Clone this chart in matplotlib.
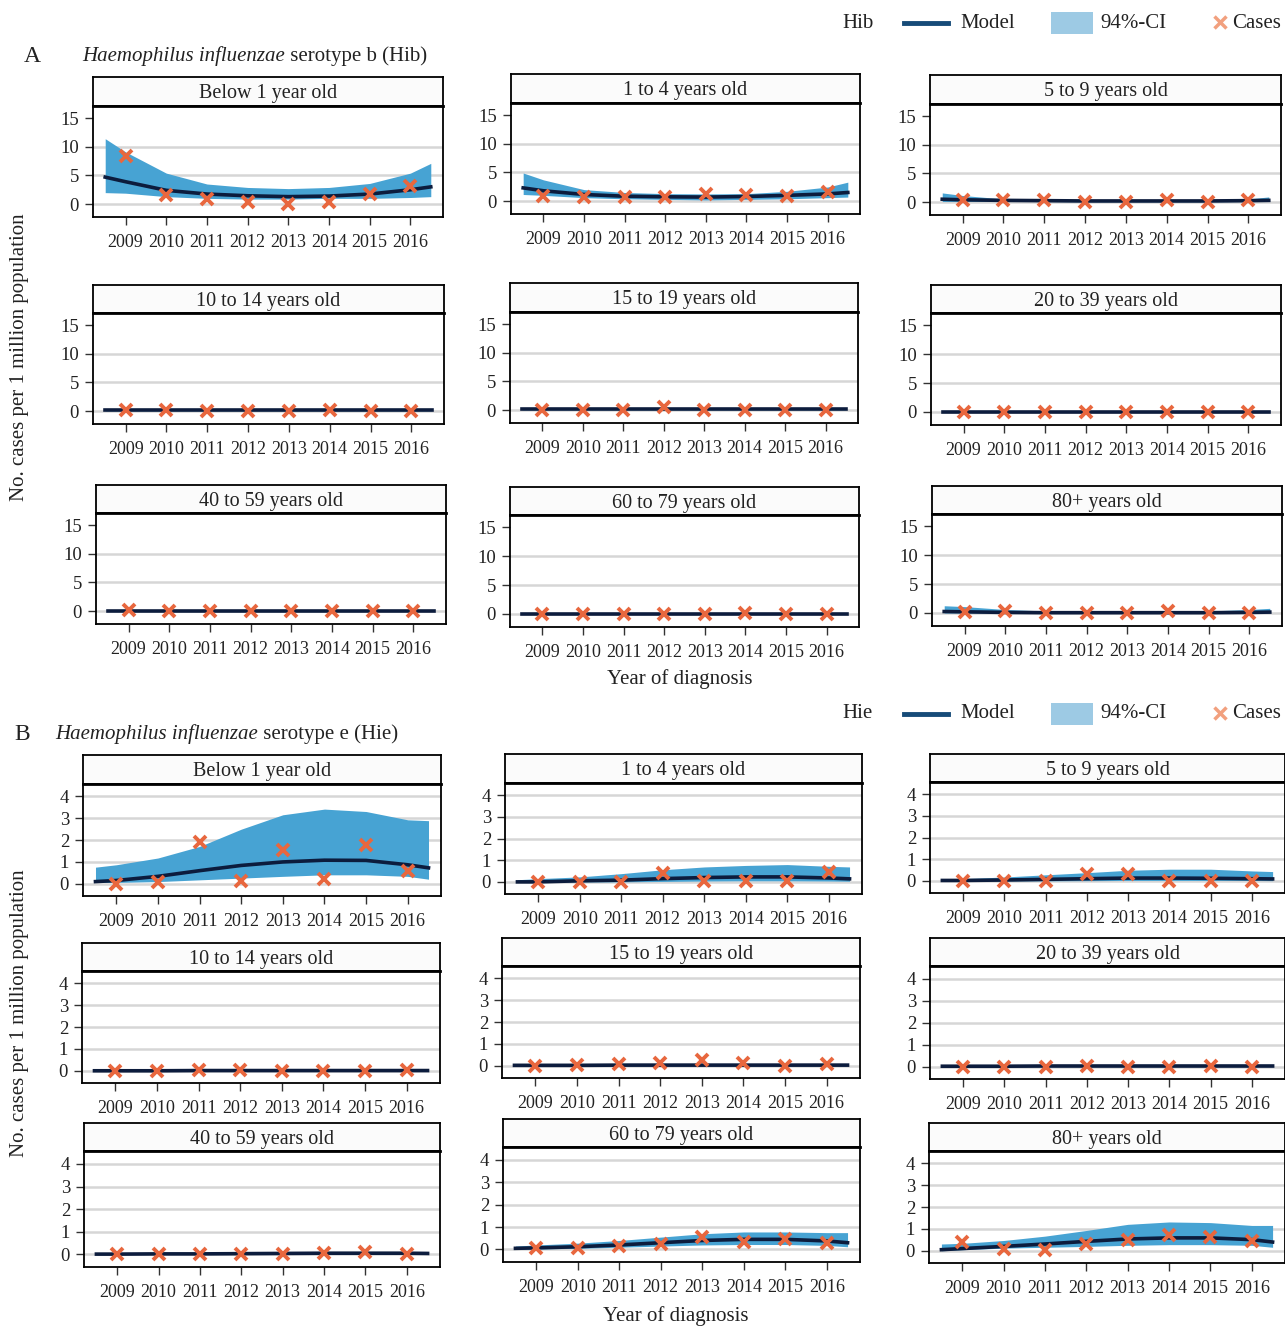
import matplotlib
matplotlib.use("Agg")
import matplotlib.pyplot as plt
from matplotlib.lines import Line2D
from matplotlib.patches import Rectangle

plt.rcParams['font.family'] = ['Liberation Serif', 'DejaVu Serif']

# ---- data ----
age_groups = ['Below 1 year old', '1 to 4 years old', '5 to 9 years old',
              '10 to 14 years old', '15 to 19 years old', '20 to 39 years old',
              '40 to 59 years old', '60 to 79 years old', '80+ years old']
years = [2009, 2010, 2011, 2012, 2013, 2014, 2015, 2016]
fit_x = [2008.5, 2009, 2010, 2011, 2012, 2013, 2014, 2015, 2016, 2016.5]

# Hib
hib_cases = [
    [8.4, 1.6, 0.85, 0.35, 0.0, 0.35, 1.8, 3.2],
    [0.85, 0.75, 0.7, 0.7, 1.3, 1.0, 0.85, 1.5],
    [0.35, 0.35, 0.35, 0.0, 0.0, 0.35, 0.0, 0.3],
    [0.2, 0.2, 0.0, 0.0, 0.0, 0.2, 0.0, 0.0],
    [0.0, 0.0, 0.0, 0.6, 0.0, 0.0, 0.0, 0.0],
    [0.0, 0.0, 0.0, 0.0, 0.0, 0.0, 0.0, 0.0],
    [0.2, 0.0, 0.0, 0.0, 0.0, 0.0, 0.0, 0.1],
    [0.0, 0.0, 0.0, 0.0, 0.0, 0.1, 0.0, 0.0],
    [0.25, 0.4, 0.0, 0.0, 0.0, 0.3, 0.0, 0.0],
]
hib_model = [
    [4.7, 3.9, 2.4, 1.75, 1.45, 1.3, 1.4, 1.75, 2.5, 3.0],
    [2.3, 1.8, 1.15, 0.85, 0.75, 0.7, 0.8, 1.0, 1.25, 1.5],
    [0.5, 0.4, 0.3, 0.25, 0.2, 0.2, 0.2, 0.2, 0.25, 0.3],
    [0.15, 0.15, 0.15, 0.15, 0.15, 0.15, 0.15, 0.15, 0.15, 0.15],
    [0.15, 0.15, 0.15, 0.15, 0.15, 0.15, 0.15, 0.15, 0.15, 0.15],
    [0.05, 0.05, 0.05, 0.05, 0.05, 0.05, 0.05, 0.05, 0.05, 0.05],
    [0.05, 0.05, 0.05, 0.05, 0.05, 0.05, 0.05, 0.05, 0.05, 0.05],
    [0.05, 0.05, 0.05, 0.05, 0.05, 0.05, 0.05, 0.05, 0.05, 0.05],
    [0.25, 0.2, 0.1, 0.05, 0.05, 0.05, 0.05, 0.05, 0.1, 0.15],
]
hib_lo = [
    [2.0, 1.9, 1.3, 1.0, 0.87, 0.87, 1.0, 1.0, 1.15, 1.3],
    [1.15, 1.0, 0.6, 0.4, 0.3, 0.2, 0.3, 0.4, 0.6, 0.7],
    [0.1, 0.1, 0.1, 0.1, 0.05, 0.05, 0.05, 0.05, 0.1, 0.1],
    [0.05, 0.05, 0.05, 0.05, 0.05, 0.05, 0.05, 0.05, 0.05, 0.05],
    [0.05, 0.05, 0.05, 0.05, 0.05, 0.05, 0.05, 0.05, 0.05, 0.05],
    [0.0, 0.0, 0.0, 0.0, 0.0, 0.0, 0.0, 0.0, 0.0, 0.0],
    [0.0, 0.0, 0.0, 0.0, 0.0, 0.0, 0.0, 0.0, 0.0, 0.0],
    [0.0, 0.0, 0.0, 0.0, 0.0, 0.0, 0.0, 0.0, 0.0, 0.0],
    [0.0, 0.0, 0.0, 0.0, 0.0, 0.0, 0.0, 0.0, 0.0, 0.0],
]
hib_hi = [
    [11.4, 9.1, 5.4, 3.5, 2.9, 2.7, 2.9, 3.6, 5.4, 7.1],
    [4.9, 3.7, 2.0, 1.5, 1.3, 1.25, 1.3, 1.7, 2.45, 3.3],
    [1.6, 1.15, 0.55, 0.45, 0.4, 0.4, 0.4, 0.45, 0.55, 0.9],
    [0.4, 0.3, 0.3, 0.3, 0.3, 0.3, 0.3, 0.3, 0.3, 0.3],
    [0.45, 0.35, 0.3, 0.3, 0.3, 0.3, 0.3, 0.3, 0.3, 0.3],
    [0.15, 0.12, 0.1, 0.1, 0.1, 0.1, 0.1, 0.1, 0.1, 0.12],
    [0.15, 0.12, 0.1, 0.1, 0.1, 0.1, 0.1, 0.1, 0.1, 0.12],
    [0.15, 0.12, 0.1, 0.1, 0.1, 0.1, 0.1, 0.1, 0.1, 0.12],
    [1.25, 1.1, 0.6, 0.35, 0.3, 0.3, 0.3, 0.35, 0.6, 0.8],
]

# Hie
hie_cases = [
    [0.0, 0.06, 1.9, 0.14, 1.56, 0.23, 1.76, 0.6],
    [0.0, 0.0, 0.0, 0.41, 0.05, 0.05, 0.05, 0.46],
    [0.0, 0.0, 0.0, 0.34, 0.31, 0.0, 0.0, 0.0],
    [0.0, 0.0, 0.05, 0.05, 0.0, 0.0, 0.0, 0.05],
    [0.0, 0.05, 0.1, 0.12, 0.25, 0.12, 0.0, 0.1],
    [0.0, 0.0, 0.0, 0.05, 0.0, 0.0, 0.05, 0.0],
    [0.0, 0.0, 0.0, 0.0, 0.0, 0.05, 0.1, 0.0],
    [0.05, 0.05, 0.15, 0.25, 0.55, 0.35, 0.45, 0.3],
    [0.4, 0.1, 0.05, 0.33, 0.51, 0.74, 0.65, 0.43],
]
hie_model = [
    [0.1, 0.15, 0.34, 0.6, 0.84, 1.0, 1.08, 1.07, 0.87, 0.73],
    [0.0, 0.0, 0.05, 0.08, 0.15, 0.2, 0.23, 0.23, 0.18, 0.14],
    [0.02, 0.02, 0.04, 0.07, 0.1, 0.13, 0.13, 0.12, 0.1, 0.09],
    [0.0, 0.0, 0.0, 0.01, 0.01, 0.01, 0.01, 0.01, 0.01, 0.01],
    [0.02, 0.02, 0.02, 0.03, 0.03, 0.03, 0.03, 0.03, 0.03, 0.03],
    [0.02, 0.02, 0.02, 0.03, 0.03, 0.03, 0.03, 0.03, 0.03, 0.03],
    [0.01, 0.01, 0.02, 0.02, 0.03, 0.04, 0.05, 0.05, 0.05, 0.04],
    [0.05, 0.07, 0.12, 0.2, 0.3, 0.4, 0.45, 0.45, 0.38, 0.3],
    [0.05, 0.1, 0.2, 0.31, 0.43, 0.54, 0.59, 0.59, 0.51, 0.4],
]
hie_lo = [
    [0.06, 0.06, 0.1, 0.18, 0.26, 0.34, 0.41, 0.41, 0.34, 0.21],
    [0.0, 0.0, 0.0, 0.0, 0.02, 0.04, 0.05, 0.05, 0.04, 0.03],
    [0.0, 0.0, 0.0, 0.0, 0.01, 0.02, 0.02, 0.02, 0.02, 0.01],
    [0.0, 0.0, 0.0, 0.0, 0.0, 0.0, 0.0, 0.0, 0.0, 0.0],
    [0.0, 0.0, 0.0, 0.0, 0.0, 0.0, 0.0, 0.0, 0.0, 0.0],
    [0.0, 0.0, 0.0, 0.0, 0.0, 0.0, 0.0, 0.0, 0.0, 0.0],
    [0.0, 0.0, 0.0, 0.0, 0.0, 0.0, 0.0, 0.0, 0.0, 0.0],
    [0.0, 0.02, 0.05, 0.1, 0.15, 0.2, 0.22, 0.22, 0.18, 0.12],
    [0.0, 0.05, 0.12, 0.16, 0.2, 0.25, 0.28, 0.28, 0.25, 0.16],
]
hie_hi = [
    [0.76, 0.87, 1.18, 1.71, 2.5, 3.16, 3.42, 3.31, 2.93, 2.89],
    [0.1, 0.15, 0.23, 0.38, 0.56, 0.69, 0.76, 0.8, 0.72, 0.69],
    [0.08, 0.1, 0.18, 0.28, 0.38, 0.49, 0.54, 0.54, 0.46, 0.43],
    [0.03, 0.03, 0.04, 0.05, 0.05, 0.05, 0.05, 0.05, 0.05, 0.05],
    [0.06, 0.06, 0.07, 0.08, 0.09, 0.1, 0.1, 0.1, 0.1, 0.1],
    [0.06, 0.06, 0.07, 0.08, 0.09, 0.1, 0.1, 0.1, 0.1, 0.1],
    [0.04, 0.04, 0.05, 0.06, 0.08, 0.1, 0.12, 0.12, 0.12, 0.1],
    [0.15, 0.2, 0.28, 0.4, 0.55, 0.7, 0.78, 0.78, 0.75, 0.75],
    [0.31, 0.34, 0.47, 0.67, 0.93, 1.21, 1.32, 1.29, 1.16, 1.16],
]

# ---- layout (pixels) ----
W, H = 1285, 1327
fig = plt.figure(figsize=(W / 100, H / 100), dpi=100)

# left, right, strip top, strip bottom, plot bottom
boxes_A = [(93, 443, 77, 106, 217), (511, 860, 74, 103, 214), (930, 1281, 75, 104, 215),
           (93, 444, 285, 313, 424), (510, 858, 283, 312, 423), (931, 1281, 285, 313, 425),
           (96, 446, 485, 513, 624), (510, 859, 487, 515, 627), (932, 1282, 486, 514, 626)]
boxes_B = [(83, 441, 755, 784, 896), (505, 862, 754, 783, 894), (930, 1285, 754, 782, 893),
           (82, 440, 943, 971, 1083), (502, 860, 938, 966, 1078), (930, 1285, 938, 966, 1079),
           (84, 440, 1123, 1151, 1267), (503, 860, 1119, 1147, 1262), (929, 1285, 1123, 1151, 1263)]

FILL = '#47A3D3'
LINE = '#0C1C3D'
CROSS = '#E8673E'
GRID = '#D6D6D6'


def px_axes(l, r, t, b):
    return fig.add_axes([l / W, 1 - b / H, (r - l) / W, (b - t) / H])


def panel(box, title, cases, model, lo, hi, ylim, yticks, grid):
    l, r, st, sb, b = box
    strip = px_axes(l, r, st, sb)
    strip.set_facecolor('#FBFBFB')
    strip.set_xticks([])
    strip.set_yticks([])
    for s in strip.spines.values():
        s.set_linewidth(1.3)
    strip.text(0.5, 0.42, title, ha='center', va='center', fontsize=14.5,
               color='#222222', transform=strip.transAxes)

    ax = px_axes(l, r, sb, b)
    for g in grid:
        ax.axhline(g, color=GRID, lw=1.8, zorder=0)
    ax.fill_between(fit_x, lo, hi, color=FILL, lw=0, zorder=1)
    ax.plot(fit_x, model, color=LINE, lw=2.6, zorder=2)
    ax.plot(years, cases, 'x', color=CROSS, ms=8, mew=2.8, zorder=3)
    ax.set_xlim(2008.2, 2016.8)
    ax.set_ylim(*ylim)
    ax.set_xticks(years)
    ax.set_yticks(yticks)
    ax.tick_params(length=6, width=1, color='#333333', labelcolor='#222222')
    ax.tick_params(axis='x', labelsize=13, pad=6)
    ax.tick_params(axis='y', labelsize=13.5, pad=4)
    for s in ax.spines.values():
        s.set_linewidth(1.3)
    ax.spines['top'].set_linewidth(2)


for i in range(9):
    panel(boxes_A[i], age_groups[i], hib_cases[i], hib_model[i], hib_lo[i], hib_hi[i],
          (-2.25, 17.1), [0, 5, 10, 15], [0, 5, 10])
    panel(boxes_B[i], age_groups[i], hie_cases[i], hie_model[i], hie_lo[i], hie_hi[i],
          (-0.56, 4.57), [0, 1, 2, 3, 4], [0, 1, 2, 3, 4])


def ftxt(x, y, s, **kw):
    kw.setdefault('fontsize', 15)
    kw.setdefault('color', '#222222')
    return fig.text(x / W, 1 - y / H, s, **kw)


renderer = fig.canvas.get_renderer()


def heading(letter, lx, tx, y, abbr):
    ftxt(lx, y, letter, fontsize=17, va='center')
    t1 = ftxt(tx, y, 'Haemophilus influenzae', style='italic', va='center')
    bb = t1.get_window_extent(renderer)
    fig.text(bb.x1 / W, 1 - y / H, ' serotype %s (Hi%s)' % (abbr, abbr),
             fontsize=15, color='#222222', va='center')


heading('A', 24, 82, 56, 'b')
heading('B', 14, 55, 734, 'e')


def legend(y, label):
    ftxt(842, y, label, va='center')
    fig.add_artist(Line2D([904 / W, 948 / W], [1 - y / H, 1 - y / H], color='#164B78', lw=3.5))
    ftxt(960, y, 'Model', va='center')
    fig.add_artist(Rectangle((1051 / W, 1 - (y + 11) / H), 42 / W, 22 / H,
                             color='#9DCAE4', lw=0))
    ftxt(1100, y, '94%-CI', va='center')
    fig.add_artist(Line2D([1220 / W], [1 - (y - 1) / H], marker='x', color='#F2A07E',
                          ms=8, mew=2.5, ls='none'))
    ftxt(1232, y, 'Cases', va='center')


legend(23, 'Hib')
legend(714, 'Hie')

ylab = 'No. cases per 1 million population'
ftxt(20, 357, ylab, rotation=90, ha='center', va='center')
ftxt(20, 1013, ylab, rotation=90, ha='center', va='center')
ftxt(680, 679, 'Year of diagnosis', ha='center', va='center')
ftxt(676, 1316, 'Year of diagnosis', ha='center', va='center')

fig.savefig('out.png', dpi=100, facecolor='white')
